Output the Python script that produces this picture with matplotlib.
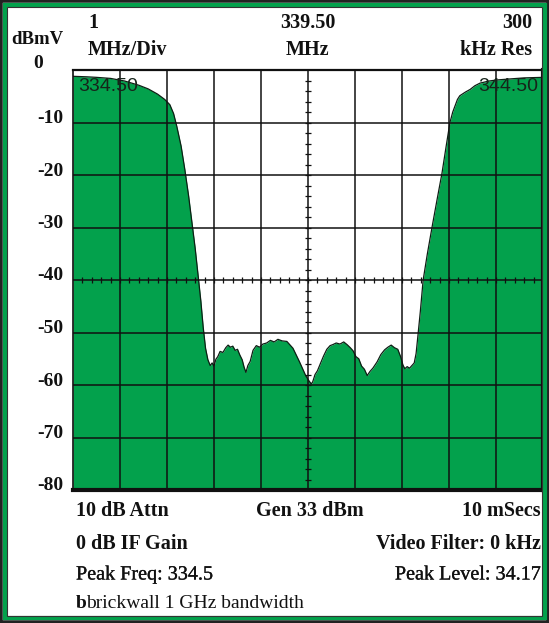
import matplotlib as mpl
mpl.use("Agg")
import matplotlib.pyplot as plt
import matplotlib.transforms as mtransforms
import matplotlib.patheffects as pe
from matplotlib.patches import Rectangle
import numpy as np

# spectrum trace (MHz, dBmV)
freq_mhz = [334.50, 334.80, 335.00, 335.30, 335.60, 335.90, 336.10, 336.30, 336.45, 336.56,
            336.64, 336.71, 336.80, 336.88, 336.96, 337.03, 337.10, 337.16, 337.22, 337.27,
            337.32, 337.37, 337.42, 337.46, 337.50, 337.54, 337.58, 337.63, 337.69, 337.75,
            337.80, 337.85, 337.90, 337.95, 338.00, 338.05, 338.10, 338.14, 338.18, 338.22,
            338.27, 338.33, 338.40, 338.47, 338.54, 338.62, 338.70, 338.78, 338.86, 338.95,
            339.05, 339.12, 339.18, 339.25, 339.32, 339.39, 339.45, 339.52, 339.57, 339.60,
            339.65, 339.70, 339.76, 339.83, 339.90, 339.97, 340.03, 340.10, 340.18, 340.26,
            340.33, 340.40, 340.46, 340.52, 340.58, 340.64, 340.70, 340.76, 340.82, 340.88,
            340.97, 341.05, 341.13, 341.20, 341.27, 341.34, 341.41, 341.47, 341.52, 341.56,
            341.61, 341.66, 341.71, 341.76, 341.80, 341.84, 341.89, 341.95, 342.04, 342.14,
            342.25, 342.35, 342.44, 342.52, 342.58, 342.63, 342.68, 342.73, 342.85, 342.95,
            343.05, 343.16, 343.35, 343.52, 343.80, 344.10, 344.50]
level_dbmv = [-1.2, -1.3, -1.4, -1.6, -2.1, -2.9, -3.6, -4.6, -5.6, -6.6,
              -8.3, -10.8, -14.5, -19.0, -24.0, -29.0, -34.0, -39.0, -44.0, -49.0,
              -53.0, -55.2, -56.3, -55.8, -56.4, -55.1, -54.6, -53.6, -53.8, -52.9,
              -52.4, -52.8, -52.6, -53.4, -53.2, -54.3, -55.2, -56.6, -57.6, -56.3,
              -55.5, -53.4, -52.5, -52.8, -52.2, -52.0, -51.5, -51.8, -51.3, -51.6,
              -51.7, -52.4, -53.0, -54.3, -55.6, -57.0, -58.2, -59.2, -59.8, -59.4,
              -58.0, -57.3, -56.0, -54.5, -53.2, -52.5, -52.3, -52.0, -52.2, -51.8,
              -52.3, -52.9, -53.5, -54.6, -55.0, -56.4, -57.0, -58.2, -57.4, -56.8,
              -55.6, -54.2, -53.3, -52.8, -52.4, -52.9, -53.2, -54.6, -56.2, -56.9,
              -56.5, -56.8, -56.3, -55.8, -54.0, -50.5, -46.0, -40.0, -35.0, -29.9,
              -24.5, -19.7, -14.5, -10.0, -8.0, -6.8, -5.6, -4.9, -4.2, -3.7,
              -3.0, -2.5, -2.1, -1.9, -1.7, -1.5, -1.4]

y_ticks = [-10, -20, -30, -40, -50, -60, -70, -80]
x_grid = [335.5, 336.5, 337.5, 338.5, 339.5, 340.5, 341.5, 342.5, 343.5]

header = [("1\nMHz/Div", "left"), ("339.50\nMHz", "center"), ("300\nkHz Res", "right")]
footer_rows = [("10 dB Attn", "Gen 33 dBm", "10 mSecs"),
               ("0 dB IF Gain", "", "Video Filter: 0 kHz"),
               ("Peak Freq: 334.5", "", "Peak Level: 34.17")]

GREEN = "#03a14c"
INK = "#111111"
W, H = 549, 623

fig = plt.figure(figsize=(W / 100, H / 100), dpi=100)
plt.rcParams['font.family'] = ['Liberation Serif', 'DejaVu Serif']

def fx(px): return px / W
def fy(py): return 1 - py / H

thick = [pe.withStroke(linewidth=0.2, foreground=INK)]

# outer frame
fig.add_artist(Rectangle((0, 0), 1, 1, transform=fig.transFigure, fill=False,
                         edgecolor="#222222", lw=4))
fig.add_artist(Rectangle((fx(4.5), fy(618)), fx(540), 613 / H, transform=fig.transFigure,
                         fill=False, edgecolor=GREEN, lw=3))
fig.add_artist(Rectangle((fx(7), fy(616)), fx(535), 609 / H, transform=fig.transFigure,
                         fill=False, edgecolor="#333333", lw=0.8))

ax = fig.add_axes([fx(73), fy(490), fx(470), 420 / H])
ax.set_xlim(334.5, 344.5)
ax.set_ylim(-80, 0)

ax.fill_between(freq_mhz, level_dbmv, -80, color=GREEN, lw=0, zorder=1)
ax.plot(freq_mhz, level_dbmv, color="#0d1f14", lw=0.9, zorder=2)

for xv in x_grid:
    ax.axvline(xv, color=INK, lw=1.1, zorder=3)
for yv in y_ticks[:-1]:
    ax.axhline(yv, color=INK, lw=1.1, zorder=3)

# small ticks on the centre lines
ax.plot([339.5] * 39, np.arange(-78, 0, 2), ls="none", marker="_", ms=4, mew=0.9,
        color=INK, zorder=3)
ax.plot(np.arange(334.7, 344.4, 0.2), [-40] * 49, ls="none", marker="|", ms=4, mew=0.9,
        color=INK, zorder=3)

ax.set_xticks([])
ax.set_yticks([])
for side, w in (("left", 1.2), ("top", 1.6), ("right", 3.0), ("bottom", 3.0)):
    ax.spines[side].set_linewidth(w)
    ax.spines[side].set_color("#101010")

ax.text(0.011, 0.982, "334.50", transform=ax.transAxes, ha="left", va="top",
        fontsize=14, family="Liberation Sans", color="#16241a", zorder=4)
ax.text(0.99, 0.982, "344.50", transform=ax.transAxes, ha="right", va="top",
        fontsize=14, family="Liberation Sans", color="#16241a", zorder=4)

# y labels, slightly above the grid lines
off = mtransforms.ScaledTranslation(0, 4 / 100, fig.dpi_scale_trans)
ytr = mtransforms.blended_transform_factory(fig.transFigure, ax.transData) + off
for yv in y_ticks:
    fig.text(fx(63), yv, str(yv), transform=ytr, ha="right", va="center",
             fontsize=14, fontweight="bold", color=INK)
fig.text(fx(38), fy(64), "0", ha="center", va="center", fontsize=14,
         fontweight="bold", color=INK)
fig.text(fx(37), fy(40), "dBmV", ha="center", va="center", fontsize=13.5,
         fontweight="bold", color=INK)

# header
hx = {"left": fx(88), "center": fx(308), "right": fx(532)}
for txt, al in header:
    top, bot = txt.split("\n")
    fig.text(hx[al], fy(23), top, ha=al, va="center", fontsize=14.5,
             fontweight="bold", color=INK)
    fig.text(hx[al], fy(50), bot, ha=al, va="center", fontsize=14.5,
             fontweight="bold", color=INK)

# footer
row_y = [511, 544, 575]
for (l, c, r), yy in zip(footer_rows, row_y):
    wt = "normal" if yy == 575 else "bold"
    fx_eff = thick if wt == "normal" else None
    fig.text(fx(76), fy(yy), l, ha="left", va="center", fontsize=14.5, fontweight=wt,
             color=INK, path_effects=fx_eff)
    if c:
        fig.text(fx(310), fy(yy), c, ha="center", va="center", fontsize=14.5,
                 fontweight=wt, color=INK)
    fig.text(fx(541), fy(yy), r, ha="right", va="center", fontsize=14.5, fontweight=wt,
             color=INK, path_effects=fx_eff)

fig.text(fx(76), fy(603), "b", ha="left", va="center", fontsize=14, fontweight="bold",
         color=INK)
fig.text(fx(86), fy(603), "brickwall 1 GHz bandwidth", ha="left", va="center",
         fontsize=14, color=INK)

fig.savefig("out.png", dpi=100, facecolor="white")
